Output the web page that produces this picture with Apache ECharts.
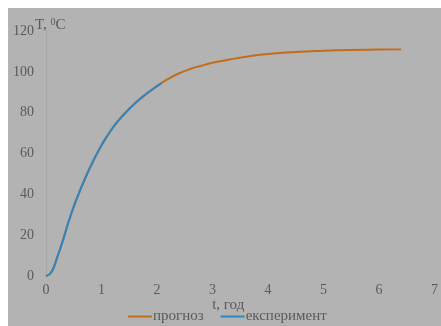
<!DOCTYPE html>
<html><head><meta charset="utf-8">
<script src="https://cdn.jsdelivr.net/npm/echarts@6/dist/echarts.min.js"></script>
<style>html,body{margin:0;padding:0;background:#fff}#c{position:absolute;left:8px;top:8px;width:433px;height:318px;background:#b3b3b3}</style>
</head><body><div id="c"></div>
<script>
const forecastT = [0,0.1,0.2,0.3,0.4,0.5,0.6,0.7,0.8,0.9,1.0,1.1,1.2,1.3,1.4,1.6,1.8,2.0,2.2,2.4,2.6,2.8,3.0,3.3,3.6,4.0,4.5,5.0,5.5,6.0,6.4];
const forecastV = [0,2,9,17,26,34,41,47.5,53.5,59,64,68.5,72.5,76,79,84.5,89,93,96.5,99.3,101.4,103,104.4,106,107.4,108.7,109.7,110.3,110.7,110.9,111];
const expT = [0,0.1,0.2,0.3,0.4,0.5,0.6,0.7,0.8,0.9,1.0,1.1,1.2,1.3,1.4,1.6,1.8,2.0,2.08];
const expV = [0,2,9,17,26,34,41,47.5,53.5,59,64,68.5,72.5,76,79,84.5,89,93,94.4];
const xTicks = [0,1,2,3,4,5,6,7];
const yTicks = [0,20,40,60,80,100,120];
const seriesNames = ['прогноз','експеримент'];

const pair = (a,b)=>a.map((v,i)=>[v,b[i]]);
const chart = echarts.init(document.getElementById('c'));
const txt = '#5a5a5a';
const font = 'Liberation Serif';
chart.setOption({
  backgroundColor:'#b3b3b3',
  animation:false,
  grid:{left:38,right:6,top:23,bottom:50},
  title:{text:'T, {s|0}C',left:22,top:4,textStyle:{fontFamily:font,fontSize:15,fontWeight:'normal',color:txt,rich:{s:{fontSize:10,verticalAlign:'top',padding:[0,0,6,0],fontFamily:font,color:txt}}}},
  legend:{left:115,top:296,itemWidth:24,itemHeight:2,itemGap:17,icon:'rect',
    textStyle:{fontFamily:font,fontSize:15,color:txt,padding:[0,0,0,-4]},data:seriesNames},
  xAxis:{type:'value',min:0,max:7,interval:1,name:'t, год',nameLocation:'middle',nameGap:29,nameMoveOverlap:false,
    nameTextStyle:{fontFamily:font,fontSize:15,color:txt,verticalAlign:'middle',padding:[0,24,0,0]},
    axisLine:{show:false},axisTick:{show:false},splitLine:{show:false},
    axisLabel:{fontFamily:font,fontSize:14,color:txt,margin:7,formatter:v=>xTicks.includes(v)?String(v):''}},
  yAxis:{type:'value',min:0,max:120,interval:20,
    axisLine:{show:true,lineStyle:{color:'#a6a6a6',width:1}},axisTick:{show:false},splitLine:{show:false},
    axisLabel:{fontFamily:font,fontSize:14,color:txt,margin:12,formatter:v=>yTicks.includes(v)?String(v):''}},
  series:[
    {name:seriesNames[0],type:'line',smooth:0.5,showSymbol:false,data:pair(forecastT,forecastV),
      lineStyle:{color:'#c26d1a',width:2},itemStyle:{color:'#c26d1a'}},
    {name:seriesNames[1],type:'line',smooth:0.5,showSymbol:false,data:pair(expT,expV),
      lineStyle:{color:'#2e86c2',width:2},itemStyle:{color:'#2e86c2'}}
  ]
});
</script></body></html>
